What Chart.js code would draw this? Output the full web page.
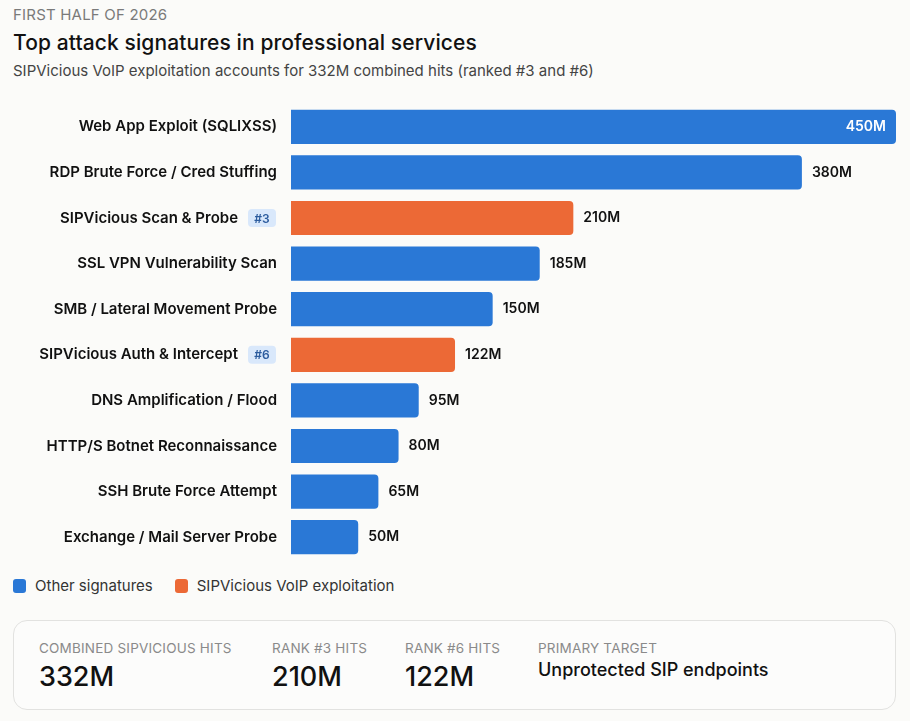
<!DOCTYPE html>
<html>
<head>
<meta charset="utf-8">
<script src="https://cdn.jsdelivr.net/npm/chart.js@4"></script>
<style>
  body { margin: 0; background: #fbfbf9; font-family: Inter, "Noto Sans", sans-serif; color: #111; }
  .wrap { position: relative; width: 910px; height: 721px; }
  .eyebrow { position: absolute; left: 13px; top: 5px; font-size: 15px; color: #7a7a7a; letter-spacing: 0.2px; }
  .title { position: absolute; left: 13px; top: 30px; font-size: 21px; font-weight: 500; color: #111; letter-spacing: 0.1px; }
  .sub { position: absolute; left: 13px; top: 61px; font-size: 15px; color: #444; }
  .chart-box { position: absolute; left: 0; top: 96px; width: 910px; height: 470px; }
  .legend { position: absolute; left: 13px; top: 576px; font-size: 15px; color: #333; display: flex; gap: 22px; }
  .legend span { display: inline-flex; align-items: center; }
  .legend i { display: inline-block; width: 13px; height: 14px; border-radius: 3px; margin-right: 9px; }
  .summary { position: absolute; left: 13px; top: 620px; width: 881px; height: 88px; border: 1px solid #e2e2e0; border-radius: 14px; background: #fcfcfb; }
  .stat { position: absolute; top: 19px; }
  .stat .k { font-size: 13.5px; color: #8a8a8a; text-transform: uppercase; letter-spacing: 0.2px; }
  .stat .v { font-size: 27px; font-weight: 500; color: #111; margin-top: 4px; }
  .stat .v.txt { font-size: 18px; font-weight: 500; margin-top: 3px; }
</style>
</head>
<body>
<div class="wrap">
  <div class="eyebrow">FIRST HALF OF 2026</div>
  <div class="title">Top attack signatures in professional services</div>
  <div class="sub">SIPVicious VoIP exploitation accounts for 332M combined hits (ranked #3 and #6)</div>
  <div class="chart-box"><canvas id="attackChart"></canvas></div>
  <div class="legend">
    <span><i style="background:#2a78d6"></i>Other signatures</span>
    <span><i style="background:#ec6936"></i>SIPVicious VoIP exploitation</span>
  </div>
  <div class="summary">
    <div class="stat" style="left:25px"><div class="k">Combined SIPVicious hits</div><div class="v">332M</div></div>
    <div class="stat" style="left:258px"><div class="k">Rank #3 hits</div><div class="v">210M</div></div>
    <div class="stat" style="left:391px"><div class="k">Rank #6 hits</div><div class="v">122M</div></div>
    <div class="stat" style="left:524px"><div class="k">Primary target</div><div class="v txt">Unprotected SIP endpoints</div></div>
  </div>
</div>
<script>
const signatures = [
  "Web App Exploit (SQLIXSS)",
  "RDP Brute Force / Cred Stuffing",
  "SIPVicious Scan & Probe",
  "SSL VPN Vulnerability Scan",
  "SMB / Lateral Movement Probe",
  "SIPVicious Auth & Intercept",
  "DNS Amplification / Flood",
  "HTTP/S Botnet Reconnaissance",
  "SSH Brute Force Attempt",
  "Exchange / Mail Server Probe",
];
const hits = [450, 380, 210, 185, 150, 122, 95, 80, 65, 50];
const isSipVicious = [false, false, true, false, false, true, false, false, false, false];
const rankBadges = ["", "", "#3", "", "", "#6", "", "", "", ""];

const BLUE = "#2a78d6";
const ORANGE = "#ec6936";

// labels on the left + badges + value labels
const labelPlugin = {
  id: "labelPlugin",
  afterDatasetsDraw(chart) {
    const ctx = chart.ctx;
    const meta = chart.getDatasetMeta(0);
    const yScale = chart.scales.y;
    ctx.save();
    signatures.forEach((name, i) => {
      const y = yScale.getPixelForValue(i);
      let right = 277;
      if (rankBadges[i]) {
        ctx.font = "600 12px Inter, sans-serif";
        const bw = 28, bh = 18, bx = 248;
        ctx.fillStyle = "#d9e8fb";
        ctx.beginPath();
        ctx.roundRect(bx, y - bh / 2, bw, bh, 4);
        ctx.fill();
        ctx.fillStyle = "#2c5c9e";
        ctx.textAlign = "center";
        ctx.textBaseline = "middle";
        ctx.fillText(rankBadges[i], bx + bw / 2, y + 1);
        right = 238;
      }
      ctx.font = "600 15px Inter, sans-serif";
      ctx.fillStyle = "#111";
      ctx.textAlign = "right";
      ctx.textBaseline = "middle";
      ctx.fillText(name, right, y);

      // value label
      const bar = meta.data[i];
      const txt = hits[i] + "M";
      ctx.font = "600 14px Inter, sans-serif";
      if (bar.x > chart.chartArea.right - 60) {
        ctx.fillStyle = "#fff";
        ctx.textAlign = "right";
        ctx.fillText(txt, bar.x - 10, y);
      } else {
        ctx.fillStyle = "#111";
        ctx.textAlign = "left";
        ctx.fillText(txt, bar.x + 10, y);
      }
    });
    ctx.restore();
  },
};

new Chart(document.getElementById("attackChart"), {
  type: "bar",
  data: {
    labels: signatures,
    datasets: [
      {
        data: hits,
        backgroundColor: isSipVicious.map((s) => (s ? ORANGE : BLUE)),
        borderRadius: 4,
        borderSkipped: "start",
        barPercentage: 0.75,
        categoryPercentage: 1,
      },
    ],
  },
  options: {
    indexAxis: "y",
    responsive: true,
    maintainAspectRatio: false,
    animation: false,
    layout: { padding: { left: 291, right: 14, top: 8, bottom: 6 } },
    plugins: { legend: { display: false }, tooltip: { enabled: false } },
    scales: {
      x: { min: 0, max: 450, display: false },
      y: { display: false },
    },
  },
  plugins: [labelPlugin],
});
</script>
</body>
</html>
